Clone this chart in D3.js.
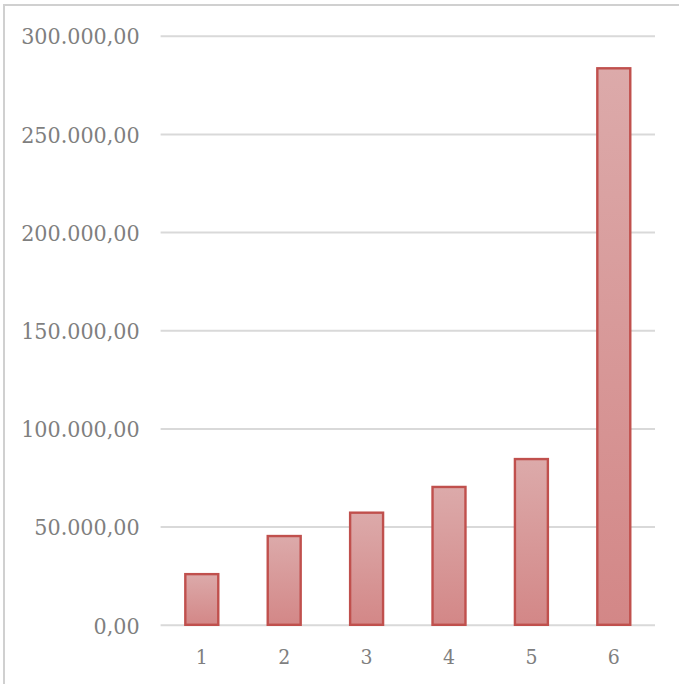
<!DOCTYPE html>
<html>
<head>
<meta charset="utf-8">
<script src="https://cdn.jsdelivr.net/npm/d3@7"></script>
<style>
  html, body { margin: 0; padding: 0; background: #fff; }
  svg { display: block; }
  .lbl { font-family: 'DejaVu Serif Condensed', 'DejaVu Serif', serif; font-stretch: condensed; }
</style>
</head>
<body>
<svg id="chart" width="679" height="684"></svg>
<script>
// Series
const categories = ["1", "2", "3", "4", "5", "6"];
const values = [25800, 45200, 57100, 70200, 84400, 283400];
const yTicks = [0, 50000, 100000, 150000, 200000, 250000, 300000];

const W = 679, H = 684;
const margin = { top: 35.7, right: 24, bottom: 59.2, left: 160.6 };

const svg = d3.select("#chart");

// Frame lines along the left and top edges
svg.append("line").attr("x1", 4).attr("x2", 4).attr("y1", 4).attr("y2", H)
  .attr("stroke", "#d0d0d0").attr("stroke-width", 2);
svg.append("line").attr("x1", 4).attr("x2", W).attr("y1", 5).attr("y2", 5)
  .attr("stroke", "#d0d0d0").attr("stroke-width", 2);

const x = d3.scaleBand()
  .domain(categories)
  .range([margin.left, W - margin.right])
  .paddingInner(0.6)
  .paddingOuter(0.3);

const y = d3.scaleLinear()
  .domain([0, 300000])
  .range([H - margin.bottom, margin.top]);

const fmt = v => {
  const s = d3.format(",.2f")(v);
  return s.replace(/,/g, "#").replace(/\./g, ",").replace(/#/g, ".");
};

// Bar fill gradient, lighter at the top
const defs = svg.append("defs");
const grad = defs.append("linearGradient").attr("id", "barFill")
  .attr("x1", 0).attr("y1", 0).attr("x2", 0).attr("y2", 1);
grad.append("stop").attr("offset", "0%").attr("stop-color", "#dcaaaa");
grad.append("stop").attr("offset", "100%").attr("stop-color", "#d38787");

// Y axis: labels + gridlines
const yAxis = d3.axisLeft(y)
  .tickValues(yTicks)
  .tickSize(-(W - margin.right - margin.left))
  .tickPadding(21)
  .tickFormat(fmt);

const gy = svg.append("g")
  .attr("transform", `translate(${margin.left},0)`)
  .call(yAxis);
gy.select(".domain").remove();
gy.selectAll(".tick line").attr("stroke", "#d9d9d9").attr("stroke-width", 2);
gy.selectAll(".tick text")
  .attr("class", "lbl")
  .attr("fill", "#7f7f7f")
  .style("font-size", "23px")
  .attr("dy", "0.36em");

// Bars
svg.append("g").selectAll("rect")
  .data(values)
  .join("rect")
  .attr("x", (d, i) => x(categories[i]))
  .attr("width", x.bandwidth())
  .attr("y", d => y(d))
  .attr("height", d => y(0) - y(d))
  .attr("fill", "url(#barFill)")
  .attr("stroke", "#c0504d")
  .attr("stroke-width", 2.4);

// X axis labels
const xAxis = d3.axisBottom(x).tickSize(0).tickPadding(24);
const gx = svg.append("g")
  .attr("transform", `translate(0,${y(0)})`)
  .call(xAxis);
gx.select(".domain").remove();
gx.selectAll(".tick text")
  .attr("class", "lbl")
  .attr("fill", "#7f7f7f")
  .style("font-size", "21px");
</script>
</body>
</html>
